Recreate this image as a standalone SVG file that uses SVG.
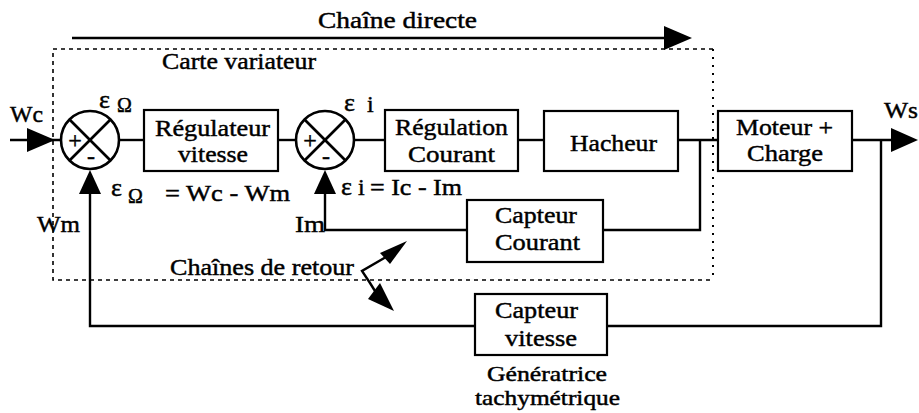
<svg xmlns="http://www.w3.org/2000/svg" width="919" height="413" viewBox="0 0 919 413">
<style>
  text { font-family: "Liberation Serif", serif; font-size: 24px; fill: #000; stroke: #000; stroke-width: 0.45; }
  .c { text-anchor: middle; }
  .box { fill: #fff; stroke: #000; stroke-width: 2.2; }
  .ln { fill: none; stroke: #000; stroke-width: 2.4; }
  .ah { fill: #000; stroke: none; }
  .sum { fill: #fff; stroke: #000; stroke-width: 2.6; }
  .x { stroke: #000; stroke-width: 2.6; }
  .dash { fill: none; stroke: #000; stroke-width: 1.6; stroke-dasharray: 4 4; }
  .dot { fill: none; stroke: #000; stroke-width: 2; stroke-dasharray: 2 6; }
  .sm { font-size: 20px; }
  .eps { font-size: 26px; }
  .gen { font-size: 21px; }
</style>
<rect width="919" height="413" fill="#fff"/>

<!-- Carte variateur frame -->
<g id="carte">
  <path class="dash" d="M713,49 H53 V280 H713"/>
  <path class="dot" d="M713,49 V280"/>
  <text x="162" y="69" textLength="154" lengthAdjust="spacingAndGlyphs">Carte variateur</text>
</g>

<!-- Chaîne directe arrow -->
<g id="chaine-directe">
  <line class="ln" x1="72" y1="38" x2="668" y2="38"/>
  <polygon class="ah" points="664,26 692,38 664,50"/>
  <text x="318" y="28" textLength="159" lengthAdjust="spacingAndGlyphs">Chaîne directe</text>
</g>

<g id="connectors">
  <!-- input Wc -->
  <line class="ln" x1="10" y1="140" x2="61" y2="140"/>
  <polygon class="ah" points="27,128 55,140 27,152"/>
  <!-- forward chain -->
  <line class="ln" x1="119" y1="140" x2="144" y2="140"/>
  <line class="ln" x1="278" y1="140" x2="296" y2="140"/>
  <line class="ln" x1="354" y1="140" x2="385" y2="140"/>
  <line class="ln" x1="518" y1="140" x2="544" y2="140"/>
  <line class="ln" x1="678" y1="140" x2="718" y2="140"/>
  <!-- output Ws -->
  <line class="ln" x1="852" y1="140" x2="895" y2="140"/>
  <polygon class="ah" points="891,128 918,140 891,152"/>
  <!-- current feedback -->
  <polyline class="ln" points="700,140 700,230 603,230"/>
  <polyline class="ln" points="467,230 325,230 325,190"/>
  <polygon class="ah" points="314,194 325,170 336,194"/>
  <!-- speed feedback -->
  <polyline class="ln" points="881,140 881,326 607,326"/>
  <polyline class="ln" points="475,326 90,326 90,190"/>
  <polygon class="ah" points="79,194 90,170 101,194"/>
</g>

<!-- summing junction 1 -->
<g id="sum1">
  <circle class="sum" cx="90" cy="140" r="29"/>
  <line class="x" x1="69.5" y1="119.5" x2="110.5" y2="160.5"/>
  <line class="x" x1="110.5" y1="119.5" x2="69.5" y2="160.5"/>
  <text class="c" x="75" y="148" font-size="22">+</text>
  <text class="c" x="91" y="164" font-size="22">-</text>
  <text class="eps" x="99" y="108">ε</text>
  <text class="sm" x="117" y="112">Ω</text>
</g>

<!-- summing junction 2 -->
<g id="sum2">
  <circle class="sum" cx="325" cy="140" r="29"/>
  <line class="x" x1="304.5" y1="119.5" x2="345.5" y2="160.5"/>
  <line class="x" x1="345.5" y1="119.5" x2="304.5" y2="160.5"/>
  <text class="c" x="310" y="148" font-size="22">+</text>
  <text class="c" x="326" y="164" font-size="22">-</text>
  <text class="eps" x="344" y="111">ε</text>
  <text x="367" y="112">i</text>
</g>

<g id="regulateur-vitesse">
  <rect class="box" x="144" y="110" width="134" height="61"/>
  <text x="155" y="136" textLength="115" lengthAdjust="spacingAndGlyphs">Régulateur</text>
  <text x="178" y="162" textLength="70" lengthAdjust="spacingAndGlyphs">vitesse</text>
</g>

<g id="regulation-courant">
  <rect class="box" x="385" y="110" width="133" height="61"/>
  <text x="395" y="135" textLength="113" lengthAdjust="spacingAndGlyphs">Régulation</text>
  <text x="408" y="162" textLength="87" lengthAdjust="spacingAndGlyphs">Courant</text>
</g>

<g id="hacheur">
  <rect class="box" x="544" y="111" width="134" height="60"/>
  <text x="570" y="151" textLength="87" lengthAdjust="spacingAndGlyphs">Hacheur</text>
</g>

<g id="moteur">
  <rect class="box" x="718" y="111" width="134" height="60"/>
  <text x="736" y="135" textLength="97" lengthAdjust="spacingAndGlyphs">Moteur +</text>
  <text x="747" y="161" textLength="76" lengthAdjust="spacingAndGlyphs">Charge</text>
</g>

<g id="capteur-courant">
  <rect class="box" x="467" y="200" width="136" height="62"/>
  <text x="495" y="223" textLength="82" lengthAdjust="spacingAndGlyphs">Capteur</text>
  <text x="495" y="250" textLength="85" lengthAdjust="spacingAndGlyphs">Courant</text>
</g>

<g id="capteur-vitesse">
  <rect class="box" x="475" y="294" width="132" height="61"/>
  <text x="495" y="318" textLength="83" lengthAdjust="spacingAndGlyphs">Capteur</text>
  <text x="505" y="346" textLength="72" lengthAdjust="spacingAndGlyphs">vitesse</text>
  <text class="gen" x="487" y="381" textLength="120" lengthAdjust="spacingAndGlyphs">Génératrice</text>
  <text class="gen" x="475" y="405" textLength="145" lengthAdjust="spacingAndGlyphs">tachymétrique</text>
</g>

<!-- signal labels -->
<g id="labels">
  <text x="10" y="122" textLength="33" lengthAdjust="spacingAndGlyphs">Wc</text>
  <text x="884" y="118" textLength="34" lengthAdjust="spacingAndGlyphs">Ws</text>
  <text x="37" y="232" textLength="43" lengthAdjust="spacingAndGlyphs">Wm</text>
  <text x="295" y="232" textLength="30" lengthAdjust="spacingAndGlyphs">Im</text>
  <text class="eps" x="111" y="196">ε</text>
  <text class="sm" x="128" y="203">Ω</text>
  <text x="165" y="201" textLength="125" lengthAdjust="spacingAndGlyphs">= Wc - Wm</text>
  <text class="eps" x="341" y="195">ε</text>
  <text x="358" y="195">i</text>
  <text x="370" y="195" textLength="92" lengthAdjust="spacingAndGlyphs">= Ic - Im</text>
</g>

<!-- Chaînes de retour -->
<g id="chaines-retour">
  <text x="170" y="275" textLength="184" lengthAdjust="spacingAndGlyphs">Chaînes de retour</text>
  <polyline class="ln" points="386,257 362,271 370,283 375,291"/>
  <polygon class="ah" points="407,241 390,264 380,253"/>
  <polygon class="ah" points="394,311 368,299 380,283"/>
</g>
</svg>
